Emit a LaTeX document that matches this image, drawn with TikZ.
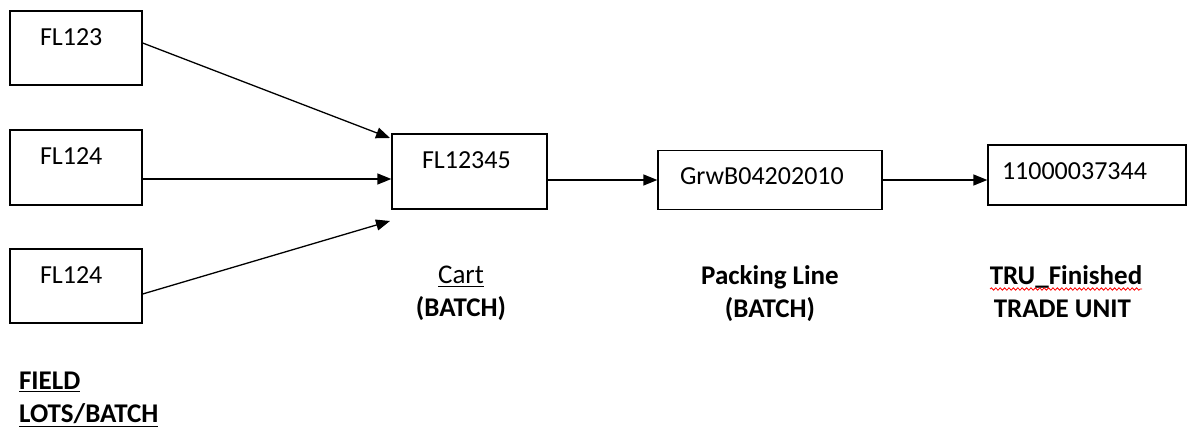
\documentclass[tikz,border=0pt]{standalone}
\usepackage{fontspec}
\setmainfont{Carlito}
\usetikzlibrary{arrows.meta,positioning,decorations.pathmorphing}
\tikzset{
    box/.style={draw, rectangle, line width=0.65pt, align=left, inner ysep=9pt, text height=8.2pt, text depth=#1},
    edge/.style={draw, line width=0.65pt, -{Triangle[length=7pt,width=5.5pt]}},
    caption/.style={font=\fontsize{13.5}{16.5}\selectfont\bfseries, align=center, anchor=base},
    spell/.style={draw=red, line width=0.4pt, decorate, decoration={snake, amplitude=0.6pt, segment length=2.2pt}}
}

\begin{document}
\begin{tikzpicture}[x=0.5pt, y=-0.5pt, font=\fontsize{13}{16.5}\selectfont]
    \useasboundingbox (0,0) rectangle (1188,427);

    % Nodes
    \node[box=10.8pt, minimum width=66pt, minimum height=37pt, text width=36pt, inner xsep=15pt] (f1) at (76,48) {FL123};
    \node[box=11.3pt, minimum width=66pt, minimum height=37.5pt, text width=36pt, inner xsep=15pt] (f2) at (76,167.5) {FL124};
    \node[box=10.8pt, minimum width=66pt, minimum height=37pt, text width=36pt, inner xsep=15pt] (f3) at (76,286) {FL124};
    \node[box=11.3pt, minimum width=77.5pt, minimum height=37.5pt, text width=47.5pt, inner xsep=15pt] (cart) at (469.5,171.5) {FL12345};
    \node[box=3.3pt, minimum width=112pt, minimum height=29.5pt, text width=90pt, inner xsep=11pt] (pack) at (770,180) {GrwB04202010};
    \node[box=3.8pt, minimum width=99pt, minimum height=30pt, text width=85pt, inner xsep=7pt] (tru) at (1087,175) {11000037344};

    \coordinate (in1) at (390,138);
    \coordinate (in3) at (390,221);

    % labels
    \node[caption] (cartlbl) at (461,316) {\mdseries\underline{Cart}\\(BATCH)};
    \node[caption] (packlbl) at (770,317) {Packing Line\\(BATCH)};
    \node[caption, align=left] (trulbl) at (1066,317) {TRU\_Finished\\\hspace{2pt}TRADE UNIT};
    \node[caption, align=left, anchor=base west] (fieldlbl) at (12,422) {\underline{FIELD}\\\underline{LOTS/BATCH}};

    % edges
    \draw[edge] ([yshift=2.5pt]f1.east) -- (in1);
    \draw[edge] ([yshift=-5.75pt]f2.east) -- ([yshift=-3.75pt]cart.west);
    \draw[edge] ([yshift=-4pt]f3.east) -- (in3);
    \draw[edge] (cart.east |- pack.west) -- (pack.west);
    \draw[edge] (pack.east) -- (pack.east -| tru.west);

    % spell check mark
    \path[spell] (990,289) -- (1142,289);
\end{tikzpicture}
\end{document}
